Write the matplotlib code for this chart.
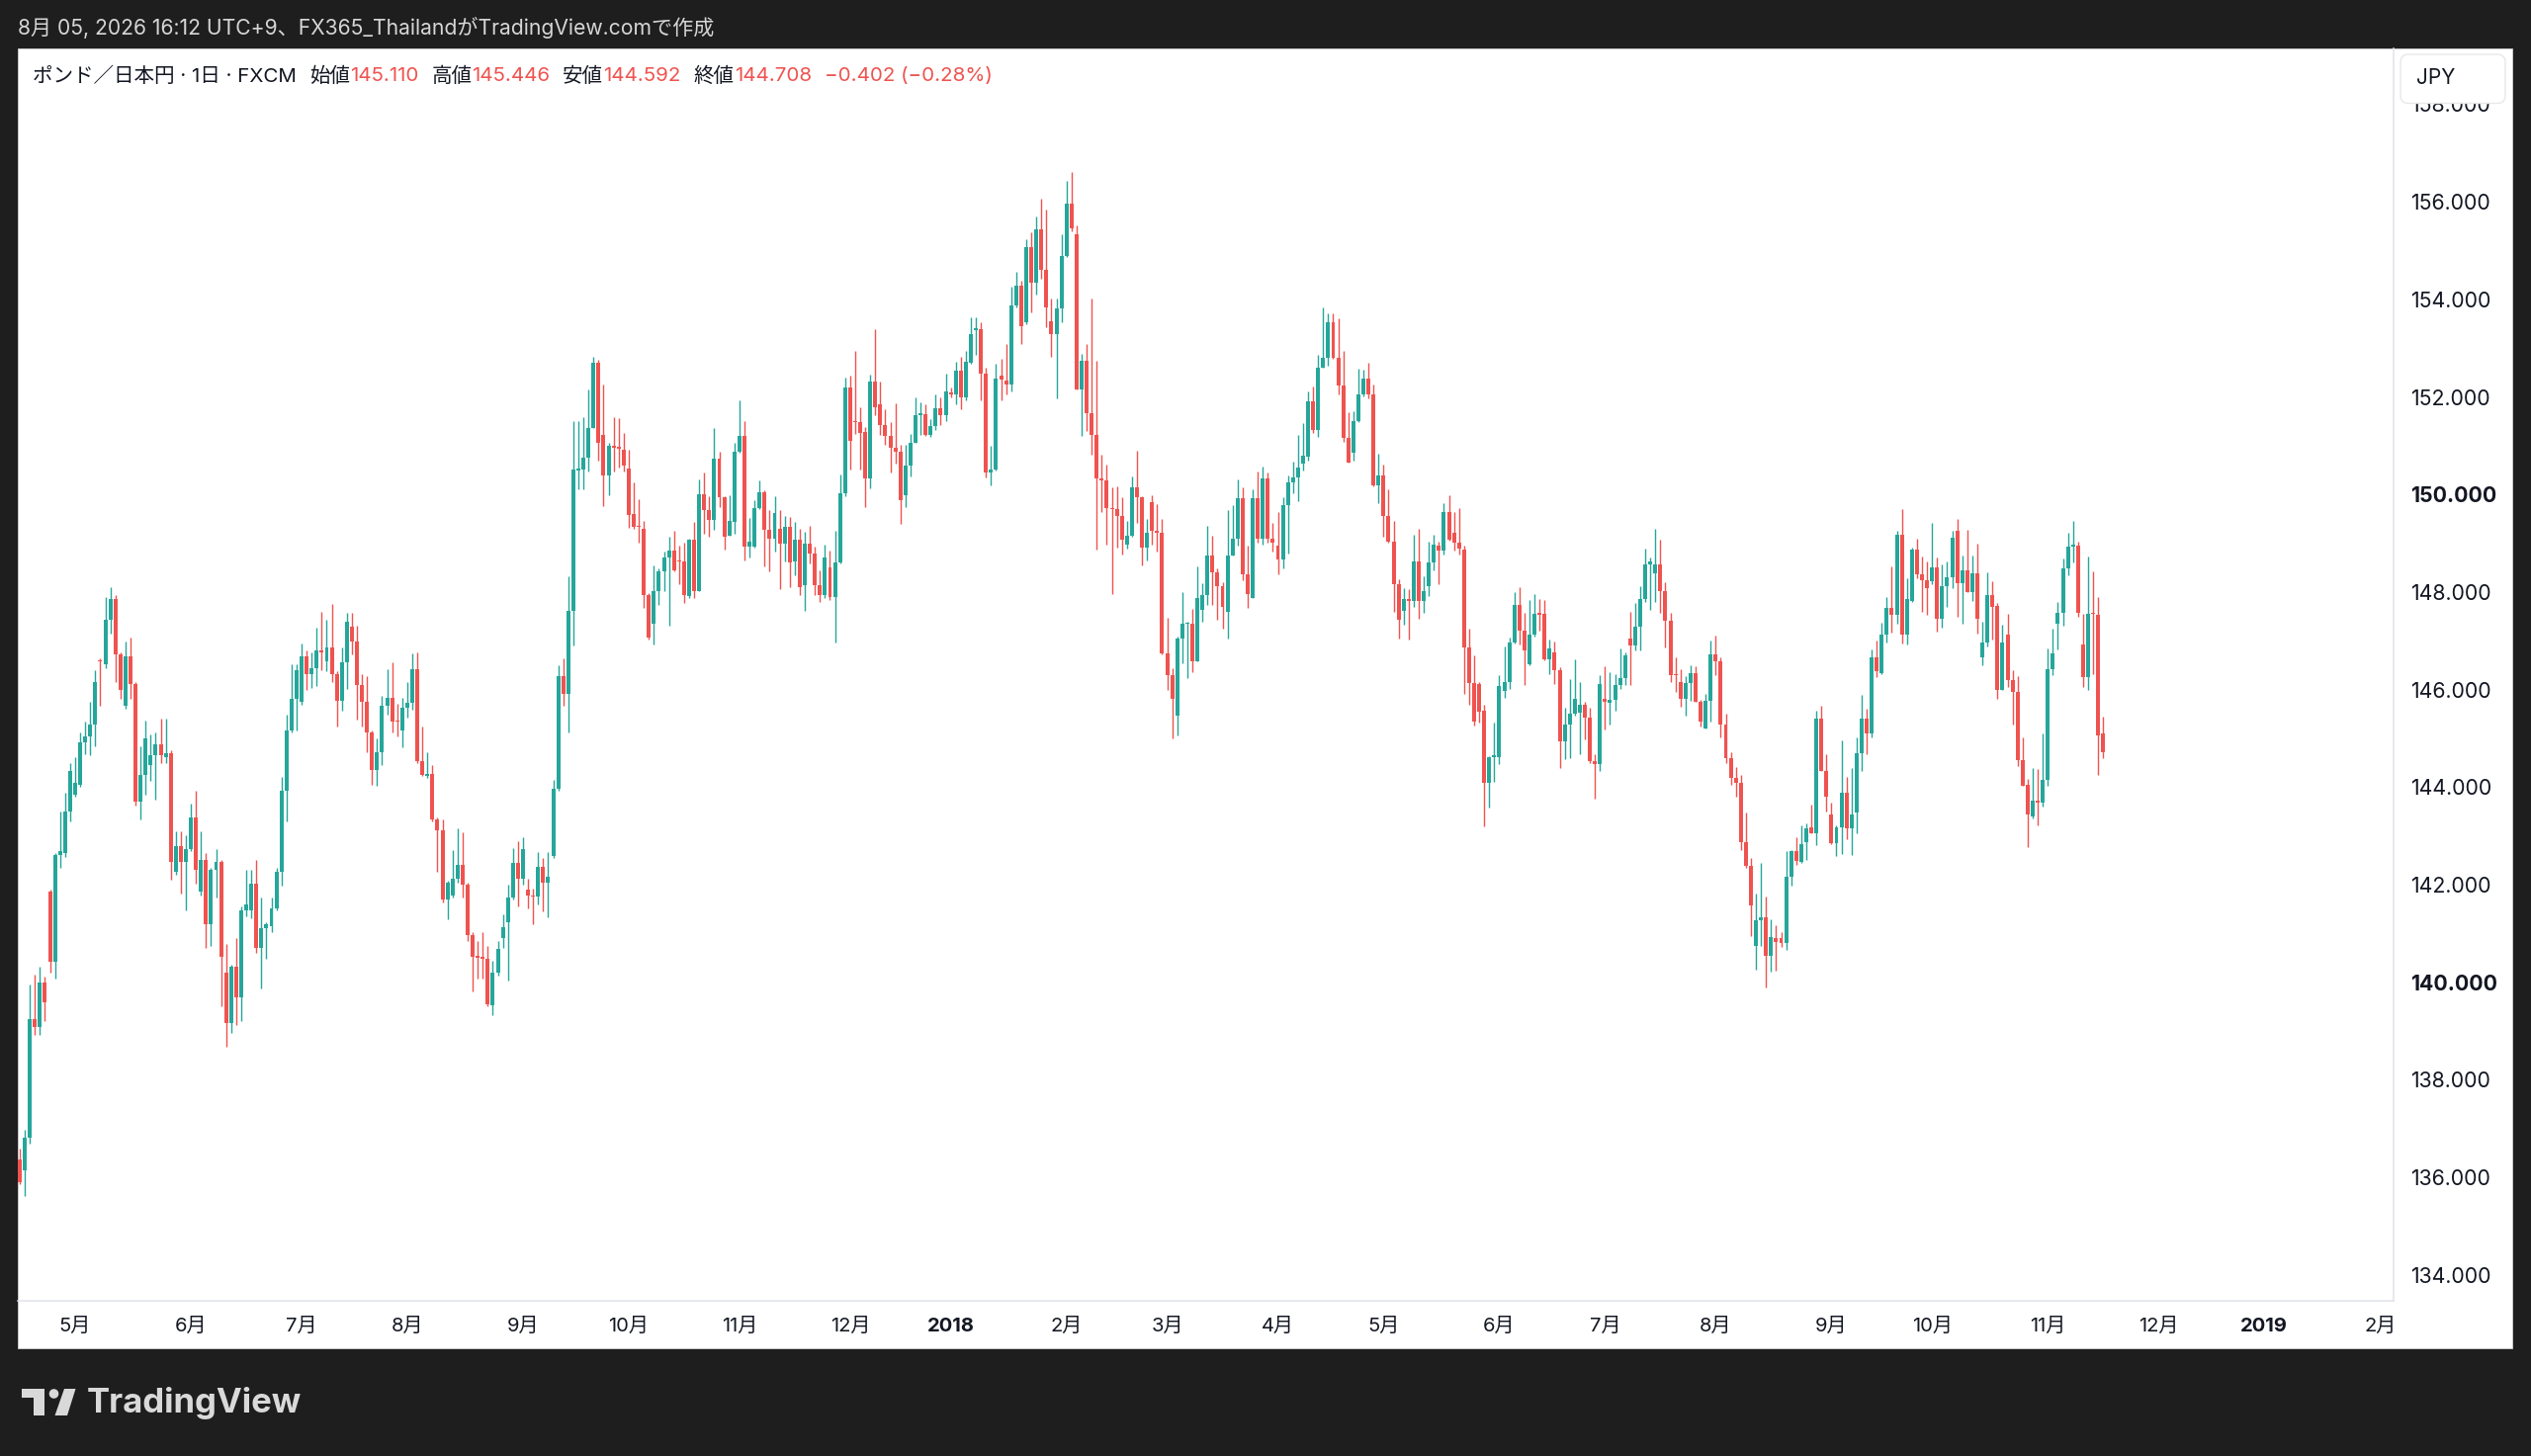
import numpy as np
import pandas as pd
import matplotlib
matplotlib.use('Agg')
import matplotlib.pyplot as plt
from matplotlib.patches import Rectangle, FancyBboxPatch, Polygon, Circle
from matplotlib.transforms import blended_transform_factory

# ---------------- data (GBP/JPY daily, FXCM) ----------------
opens = [
136.36,136.15,136.81,139.25,139.08,139.99,141.86,140.41,142.60,142.64,
143.51,143.84,144.04,144.91,145.04,145.28,146.61,146.52,147.43,147.85,
146.73,145.66,146.69,146.11,143.71,144.25,144.45,144.66,144.87,144.62,
144.70,142.27,142.80,142.47,142.72,143.38,141.85,142.51,141.19,142.31,
142.47,140.20,139.17,140.32,139.70,141.48,141.48,142.02,140.70,141.11,
141.15,141.52,142.27,143.92,145.16,145.82,145.74,146.69,146.32,146.44,
146.81,146.59,146.86,146.32,145.76,146.55,147.28,146.99,146.10,145.75,
145.12,144.36,144.72,145.66,145.83,145.36,145.16,145.63,145.72,146.41,
144.54,144.23,144.27,143.34,143.11,141.69,141.78,142.12,142.40,142.00,
140.97,140.55,140.53,140.48,139.52,140.20,140.90,141.24,141.73,142.45,
142.13,141.89,141.78,141.75,142.37,142.04,142.58,143.96,146.28,145.92,
147.62,150.50,150.52,150.76,151.36,152.70,151.23,150.38,150.99,150.97,
150.92,150.54,149.60,149.35,149.29,147.94,147.35,148.02,148.43,148.70,
148.84,148.65,148.63,147.91,149.08,148.02,150.00,149.67,149.48,150.73,
149.94,149.16,149.43,150.88,151.19,148.94,148.94,149.72,150.04,149.27,
149.10,149.30,149.00,149.33,148.62,149.08,148.15,148.99,148.79,148.15,
147.94,148.50,147.90,148.60,150.02,152.20,151.50,151.48,151.29,150.33,
152.32,151.84,151.42,151.19,150.95,150.88,149.98,150.59,151.06,151.62,
151.65,151.22,151.41,151.76,151.63,152.10,152.05,152.54,151.99,152.69,
153.36,153.39,152.47,150.44,150.51,152.43,152.34,152.26,153.87,154.28,
153.52,155.07,154.35,155.44,154.61,153.56,153.29,153.81,154.89,155.96,
155.33,152.16,152.74,151.66,151.23,150.32,150.28,149.72,149.70,149.56,
148.98,149.16,150.15,149.95,148.91,149.85,149.26,149.22,146.74,146.29,
145.46,147.05,147.34,147.34,146.58,147.63,147.94,148.74,148.40,148.13,
147.59,148.75,149.10,149.92,148.37,147.88,149.92,149.10,150.32,149.10,
148.95,148.66,149.78,150.25,150.34,150.63,150.78,151.90,151.32,152.60,
152.80,153.52,152.80,152.24,151.16,150.86,151.50,152.05,152.37,152.05,
150.18,150.38,149.55,149.04,148.17,147.62,147.85,147.81,148.62,147.81,
148.12,148.60,148.96,148.84,149.64,149.22,149.01,148.87,146.86,146.13,
146.11,145.56,144.09,144.62,144.62,145.98,146.16,146.96,147.73,147.20,
146.52,147.12,147.57,147.55,146.62,146.76,146.40,144.93,145.29,145.51,
145.53,145.68,145.42,144.53,144.47,145.80,145.72,145.78,146.10,146.24,
147.05,146.91,147.29,147.86,148.57,148.39,148.57,148.01,147.42,146.32,
146.16,145.80,146.14,146.34,145.75,145.20,145.76,146.72,146.59,145.28,
144.60,144.18,144.08,142.87,142.39,140.75,141.27,141.34,140.55,140.91,
140.90,140.81,142.17,142.68,142.47,142.88,143.17,143.06,145.41,144.34,
143.43,142.85,143.18,143.88,143.15,143.47,144.70,145.40,145.11,146.66,
146.34,147.13,147.67,147.54,149.18,147.13,147.81,148.87,148.36,148.25,
148.23,148.50,147.46,148.13,148.30,149.26,148.18,148.45,148.00,148.38,
146.66,146.97,147.93,147.71,145.99,147.13,146.20,145.95,144.55,144.04,
143.39,143.72,143.69,144.14,146.41,147.34,147.57,148.49,148.94,148.96,
146.93,146.26,147.57,147.54,145.110]

highs = [
136.60,136.97,139.95,140.16,140.32,140.12,141.90,142.65,143.51,143.88,
144.50,144.62,145.12,145.34,145.74,146.40,146.65,147.89,148.09,147.93,
146.77,146.98,147.06,146.15,144.83,145.37,145.08,145.12,145.41,145.41,
144.75,143.09,143.09,143.01,143.67,143.92,143.09,142.64,142.35,142.72,
142.50,140.78,140.36,140.90,141.56,142.31,142.31,142.51,141.73,141.23,
141.73,142.35,144.21,145.49,146.52,146.52,146.94,146.81,146.77,147.27,
147.60,147.44,147.75,146.37,146.86,147.57,147.57,147.31,146.32,146.28,
145.17,144.99,145.88,146.41,146.55,145.70,145.83,146.15,146.74,146.77,
145.25,144.72,144.45,143.38,143.34,142.09,142.71,143.16,143.07,142.05,
141.02,140.84,141.02,140.75,140.44,140.84,141.40,142.00,142.76,142.90,
142.98,142.13,141.91,142.67,142.54,142.67,144.14,146.50,146.64,148.33,
151.50,151.50,151.58,152.16,152.83,152.77,152.25,151.05,151.58,151.56,
151.27,150.92,150.24,149.90,149.46,147.98,148.54,148.48,148.82,149.14,
149.25,148.96,149.02,149.10,149.43,150.30,150.46,149.97,151.37,150.88,
149.97,149.99,151.05,151.92,151.51,149.52,149.88,150.29,150.09,149.67,
149.97,149.67,149.56,149.53,149.43,149.29,149.23,149.36,148.94,148.45,
148.98,148.84,149.26,150.41,152.39,152.43,152.94,151.79,151.39,152.45,
153.39,152.32,151.74,151.49,151.86,151.02,151.02,151.25,152.00,151.89,
151.84,151.54,152.06,151.98,152.47,152.20,152.72,152.82,152.95,153.64,
153.64,153.54,152.59,151.00,152.67,152.78,153.08,154.26,154.57,154.39,
155.23,155.37,155.69,156.06,155.85,154.01,154.01,155.33,156.43,156.60,
155.51,152.88,153.09,154.02,152.73,150.81,150.61,150.15,150.17,149.95,
149.45,150.36,150.90,149.97,149.49,149.99,149.80,149.49,147.47,146.43,
147.09,147.99,147.40,147.65,148.52,148.19,149.36,149.16,148.48,148.21,
149.67,149.78,150.30,150.15,148.95,150.11,150.47,150.57,150.46,149.41,
149.64,149.95,150.39,150.67,151.21,151.47,152.12,152.22,152.86,153.83,
153.72,153.72,153.62,152.94,151.68,151.70,152.58,152.55,152.70,152.26,
150.83,150.61,150.11,149.45,148.26,148.08,148.06,149.18,149.29,148.33,
149.04,149.17,149.04,149.82,149.98,149.63,149.73,148.96,147.25,146.70,
146.16,145.69,144.64,145.32,146.29,146.89,147.07,147.99,148.09,147.57,
147.83,147.96,147.86,147.83,147.03,146.98,146.45,145.62,146.21,146.63,
146.16,145.75,145.62,144.68,146.30,146.48,146.36,146.32,146.85,146.76,
147.59,147.78,148.11,148.88,148.70,149.30,149.07,148.20,147.57,146.66,
146.41,146.28,146.49,146.48,145.78,145.92,147.00,147.11,146.66,145.51,
144.72,144.42,144.25,143.47,142.54,141.81,142.44,141.75,141.30,141.16,
141.02,142.68,142.71,142.98,143.22,143.25,143.64,145.56,145.67,144.67,
143.69,143.22,144.95,144.21,144.40,145.01,145.90,145.61,146.83,147.01,
147.38,147.89,148.52,149.26,149.70,148.28,148.91,149.09,148.72,148.63,
149.42,148.70,148.57,148.62,149.25,149.50,148.74,149.28,148.75,148.99,
147.40,148.40,148.23,147.78,147.32,147.55,146.39,146.28,145.01,144.16,
144.39,144.37,145.11,146.85,147.24,147.80,148.69,149.21,149.46,149.04,
147.55,148.72,148.42,147.90,145.446]

lows = [
135.86,135.61,136.70,138.92,138.92,139.20,140.20,140.07,142.35,142.56,
143.30,143.80,144.00,144.67,144.66,144.83,145.66,146.44,147.14,146.15,
145.82,145.60,145.82,143.63,143.34,143.84,144.13,143.75,144.50,144.50,
142.10,142.20,141.81,141.48,142.68,142.02,141.77,140.70,140.74,141.73,
139.50,138.67,138.96,139.12,139.21,141.36,141.31,140.61,139.87,140.49,
141.03,141.48,141.98,143.30,145.12,145.16,145.69,145.99,146.03,146.07,
146.40,146.37,146.15,145.25,145.57,146.01,146.73,145.39,145.25,144.72,
144.05,144.03,144.45,145.48,145.12,145.03,144.81,145.43,145.58,144.50,
144.23,144.18,143.30,142.27,141.64,141.29,141.73,142.05,141.73,140.84,
139.82,140.08,140.08,139.50,139.33,140.13,140.71,140.04,141.69,141.55,
142.00,141.51,141.20,141.60,141.46,141.33,142.54,143.92,145.66,145.12,
146.90,150.11,150.11,150.47,151.36,150.70,149.76,149.98,150.47,150.56,
150.47,149.31,149.29,149.02,147.67,147.03,146.93,147.73,148.02,147.30,
148.43,148.17,147.77,147.88,147.88,148.01,149.19,149.14,149.28,149.75,
148.87,149.16,149.19,150.85,148.65,148.70,148.92,149.70,148.53,148.42,
148.82,148.05,148.62,148.09,148.35,147.94,147.62,148.59,147.94,147.80,
147.88,147.83,146.96,148.59,149.97,150.51,151.25,150.51,149.75,150.13,
151.63,151.22,151.02,150.46,150.63,149.40,149.75,150.36,151.05,151.22,
151.19,151.17,151.32,151.42,151.50,151.98,151.85,151.74,151.93,152.67,
152.86,151.93,150.34,150.19,150.50,151.93,152.05,152.12,153.83,153.09,
153.48,153.73,154.10,154.43,153.42,152.82,151.97,153.54,154.86,155.40,
152.15,151.19,151.31,150.81,148.87,149.64,148.97,147.96,148.92,148.77,
148.89,149.14,149.41,148.54,148.64,148.98,148.83,146.72,146.00,144.99,
145.07,146.54,146.23,146.35,146.58,147.40,147.74,147.74,147.43,147.24,
147.05,148.75,148.95,148.25,147.67,147.88,149.02,148.97,149.02,148.83,
148.37,148.48,148.78,150.03,149.87,150.50,150.69,151.26,151.18,152.60,
152.64,152.78,152.06,151.08,150.65,150.70,151.48,152.02,151.97,150.16,
149.82,149.13,149.01,147.59,147.05,147.33,147.03,147.70,147.46,147.57,
147.92,148.44,148.17,148.77,149.06,148.84,148.77,145.92,145.68,145.26,
145.32,143.20,143.59,144.11,144.48,145.84,146.02,146.94,146.92,146.09,
146.49,147.08,147.21,146.60,146.31,146.11,144.39,144.57,144.59,145.47,
144.68,144.98,144.50,143.77,144.33,145.19,145.29,145.56,146.01,146.10,
146.09,146.80,146.80,147.79,147.64,147.79,147.57,146.86,146.15,145.95,
145.65,145.46,145.76,145.75,145.24,145.20,145.34,146.29,145.01,144.50,
144.04,143.80,142.71,142.34,140.94,140.25,140.75,139.89,140.21,140.23,
140.72,140.67,141.98,142.41,142.45,142.51,143.05,142.81,144.34,143.49,
142.83,142.59,142.63,142.93,142.61,143.06,144.33,144.68,145.01,146.26,
146.32,146.97,147.17,147.34,146.95,146.93,147.79,148.28,147.59,147.53,
148.16,147.19,147.26,147.69,148.08,147.49,147.35,148.00,147.81,147.15,
146.49,146.88,147.03,145.82,145.99,146.05,145.28,144.43,144.03,142.78,
143.35,143.22,143.61,144.03,146.29,146.83,147.30,148.34,148.61,147.50,
146.05,145.99,146.32,144.24,144.592]

closes = [
135.90,136.81,139.25,139.08,139.99,139.58,140.41,142.60,142.68,143.51,
144.33,144.08,144.91,145.04,145.28,146.15,146.57,147.43,147.85,146.73,
145.99,146.69,146.11,143.71,144.25,144.99,144.66,144.87,144.66,144.70,
142.47,142.80,142.47,142.72,143.38,142.31,142.51,141.19,142.31,142.47,
140.53,139.17,140.32,139.70,141.48,141.60,142.02,140.70,141.11,141.19,
141.52,142.27,143.92,145.16,145.82,146.40,146.69,146.32,146.44,146.81,
146.77,146.86,146.32,145.76,146.55,147.39,146.99,146.10,145.75,145.12,
144.36,144.72,145.66,145.83,145.34,145.34,145.63,145.72,146.41,144.54,
144.25,144.27,143.34,143.11,141.69,142.04,142.12,142.40,142.00,140.97,
140.53,140.50,140.48,139.55,140.20,140.68,141.13,141.73,142.45,142.13,
142.73,141.78,141.75,142.37,142.04,142.17,143.96,146.28,145.92,147.62,
150.52,150.54,150.76,151.36,152.70,151.05,150.38,150.99,150.95,150.94,
150.60,149.58,149.33,149.33,147.94,147.07,148.02,148.43,148.70,148.84,
148.45,148.62,147.94,149.08,148.02,150.00,149.67,149.48,150.73,149.94,
149.14,149.45,150.88,151.19,148.94,149.04,149.72,150.04,149.27,149.10,
149.62,149.00,149.33,148.60,149.08,148.09,148.99,148.79,148.15,147.94,
148.70,147.90,148.60,150.02,152.20,151.10,151.48,151.27,150.33,152.32,
151.79,151.42,151.19,150.95,150.87,149.89,150.59,151.06,151.62,151.66,
151.22,151.41,151.76,151.63,152.11,152.05,152.54,151.99,152.72,153.29,
153.40,152.47,150.44,150.51,152.37,152.36,152.26,153.87,154.28,153.44,
155.07,154.35,155.44,154.61,153.83,153.29,153.81,154.89,155.96,155.46,
152.16,152.74,151.66,151.23,150.32,150.28,149.72,149.70,149.56,149.08,
149.16,150.15,149.95,148.91,149.22,149.26,149.22,146.74,146.29,145.81,
147.05,147.34,147.36,146.58,147.88,147.94,148.74,148.40,148.13,147.70,
148.75,149.10,149.92,148.37,147.96,149.92,149.10,150.32,149.10,149.02,
148.66,149.78,150.25,150.34,150.56,150.79,151.90,151.32,152.60,152.80,
153.52,152.80,152.24,151.16,150.66,151.50,152.05,152.37,152.05,150.18,
150.38,149.55,149.04,148.17,147.43,147.86,147.81,148.62,147.81,148.02,
148.60,148.97,148.84,149.64,149.08,149.01,148.89,146.86,146.13,145.34,
145.55,144.09,144.62,144.64,146.07,146.16,146.96,147.73,147.20,146.81,
147.12,147.55,147.54,146.62,146.85,146.40,144.93,145.29,145.51,145.80,
145.68,145.42,144.53,144.48,146.12,145.75,145.78,146.10,146.24,146.70,
146.91,147.29,147.86,148.57,148.62,148.57,148.01,147.42,146.30,146.29,
145.80,146.14,146.34,145.75,145.34,145.76,146.72,146.59,145.28,144.60,
144.18,144.08,142.87,142.39,141.58,141.27,141.34,140.55,140.92,140.82,
140.81,142.17,142.68,142.49,142.83,143.15,143.06,145.41,144.34,143.80,
142.85,143.18,143.88,143.15,143.43,144.70,145.40,145.11,146.66,146.37,
147.13,147.67,147.54,149.18,147.13,147.86,148.86,148.36,148.25,148.08,
148.50,147.46,148.13,148.30,149.11,148.18,148.45,148.00,148.38,147.46,
146.97,147.93,147.69,145.99,146.97,146.20,145.95,144.55,144.03,143.43,
143.72,143.69,144.14,146.41,146.74,147.57,148.49,148.94,148.97,147.57,
146.26,147.55,147.55,145.07,144.708]

price_ticks = [134, 136, 138, 140, 142, 144, 146, 148, 150, 152, 154, 156, 158]
bold_prices = [140, 150]
header_text = "8月 05, 2026 16:12 UTC+9、FX365_ThailandがTradingView.comで作成"
legend_parts = [("ポンド／日本円 · 1日 · FXCM", 'k'), None,
                ("始値", 'k'), ("145.110", 'r'), None,
                ("高値", 'k'), ("145.446", 'r'), None,
                ("安値", 'k'), ("144.592", 'r'), None,
                ("終値", 'k'), ("144.708", 'r'), None,
                ("−0.402 (−0.28%)", 'r')]

# ---------------- dates / bar index ----------------
dates = pd.bdate_range('2017-04-13', '2018-11-16')
dates = dates[~dates.isin(pd.to_datetime(['2017-04-14', '2017-12-25']))]
n = len(opens)
dates = dates[:n]
future = pd.bdate_range('2018-11-19', '2019-03-29')
alld = dates.append(future)

o = np.array(opens); h = np.array(highs); l = np.array(lows); c = np.array(closes)
x = np.arange(n)

UP = '#26a69a'
DN = '#ef5350'
TXT = '#131722'
BG = '#1e1e1e'
LINE = '#e0e3eb'

W, H = 2560, 1473
plt.rcParams['font.family'] = ['Inter', 'Noto Sans CJK JP', 'DejaVu Sans']

fig = plt.figure(figsize=(W / 100, H / 100), dpi=100)
fig.patch.set_facecolor(BG)

# background panel
bg = fig.add_axes([0, 0, 1, 1], zorder=-5)
bg.set_xlim(0, W); bg.set_ylim(H, 0); bg.axis('off')
bg.add_patch(Rectangle((18, 49), 2541 - 18, 1364 - 49, facecolor='white',
                       edgecolor='#cfcfcf', linewidth=0.6))

# main axes
ax_l, ax_r, ax_t, ax_b = 18, 2421, 49, 1316
ax = fig.add_axes([ax_l / W, 1 - ax_b / H, (ax_r - ax_l) / W, (ax_b - ax_t) / H], zorder=0)
ax.set_facecolor('none')

colors = np.where(c >= o, UP, DN)
ax.vlines(x, l, h, colors=colors, linewidth=1.0, zorder=2)
body_lo = np.minimum(o, c)
body_h = np.maximum(np.abs(c - o), 0.03)
ax.bar(x, body_h, bottom=body_lo, width=0.78, color=colors, linewidth=0, zorder=3)

# px mapping: x_px = 20 + 5.09*i
ax.set_xlim((ax_l - 20) / 5.09, (ax_r - 20) / 5.09)
ppx = 1 / 49.352
ax.set_ylim(156 - (ax_b - 204.1) * ppx, 156 + (204.1 - ax_t) * ppx)

for s in ['left', 'top']:
    ax.spines[s].set_visible(False)
for s in ['right', 'bottom']:
    ax.spines[s].set_color(LINE)
    ax.spines[s].set_linewidth(1.1)

ax.set_yticks(price_ticks)
ax.set_yticklabels([f"{v:.3f}" for v in price_ticks])
ax.yaxis.tick_right()
ax.tick_params(axis='y', length=0, pad=12, labelsize=15.3, labelcolor=TXT)
for lab, v in zip(ax.get_yticklabels(), price_ticks):
    if v in bold_prices:
        lab.set_fontweight('bold')
ax.set_xticks([])

# month labels
xmax = ax.get_xlim()[1]
trans = blended_transform_factory(ax.transData, fig.transFigure)
seen = set()
for i, d in enumerate(alld):
    key = (d.year, d.month)
    if key in seen:
        continue
    seen.add(key)
    if i == 0 or i > xmax:
        continue
    if d.month == 1:
        lab, fw = str(d.year), 'bold'
    else:
        lab, fw = f"{d.month}月", 'normal'
    ax.text(i, 1 - 1342 / H, lab, transform=trans, ha='center', va='center',
            fontsize=14.5, color=TXT, fontweight=fw, clip_on=False)

# overlay (pixel coordinates)
ov = fig.add_axes([0, 0, 1, 1], zorder=10)
ov.set_xlim(0, W); ov.set_ylim(H, 0); ov.axis('off')
ov.patch.set_alpha(0)

ov.text(18, 28, header_text, fontsize=15.2, color='#d6d6d6', va='center', ha='left')

# JPY badge
ov.add_patch(FancyBboxPatch((2428, 55), 106, 49.5, boxstyle='round,pad=0,rounding_size=8',
                            facecolor='white', edgecolor='#e8e8e8', linewidth=1.0))
ov.text(2444, 79, "JPY", fontsize=15, color=TXT, va='center', ha='left')

# legend line
fig.canvas.draw()
renderer = fig.canvas.get_renderer()
xpos = 33
for part in legend_parts:
    if part is None:
        xpos += 13
        continue
    s, col = part
    t = ov.text(xpos, 77, s, fontsize=14.8, color=(TXT if col == 'k' else DN),
                va='center', ha='left')
    bb = t.get_window_extent(renderer)
    xpos += bb.width

# TradingView logo
LG = '#d9d9d9'
ov.add_patch(Polygon([(22, 1405), (45, 1405), (45, 1432), (33.5, 1432), (33.5, 1414), (22, 1414)],
                     closed=True, facecolor=LG, edgecolor='none'))
ov.add_patch(Circle((54.5, 1410), 4.8, facecolor=LG, edgecolor='none'))
ov.add_patch(Polygon([(65, 1405), (76.5, 1405), (68, 1432), (55.5, 1432)],
                     closed=True, facecolor=LG, edgecolor='none'))
ov.text(88, 1419, "TradingView", fontsize=25, fontweight='bold', color=LG,
        va='center', ha='left')

fig.savefig('out.png', dpi=100, facecolor=BG)
